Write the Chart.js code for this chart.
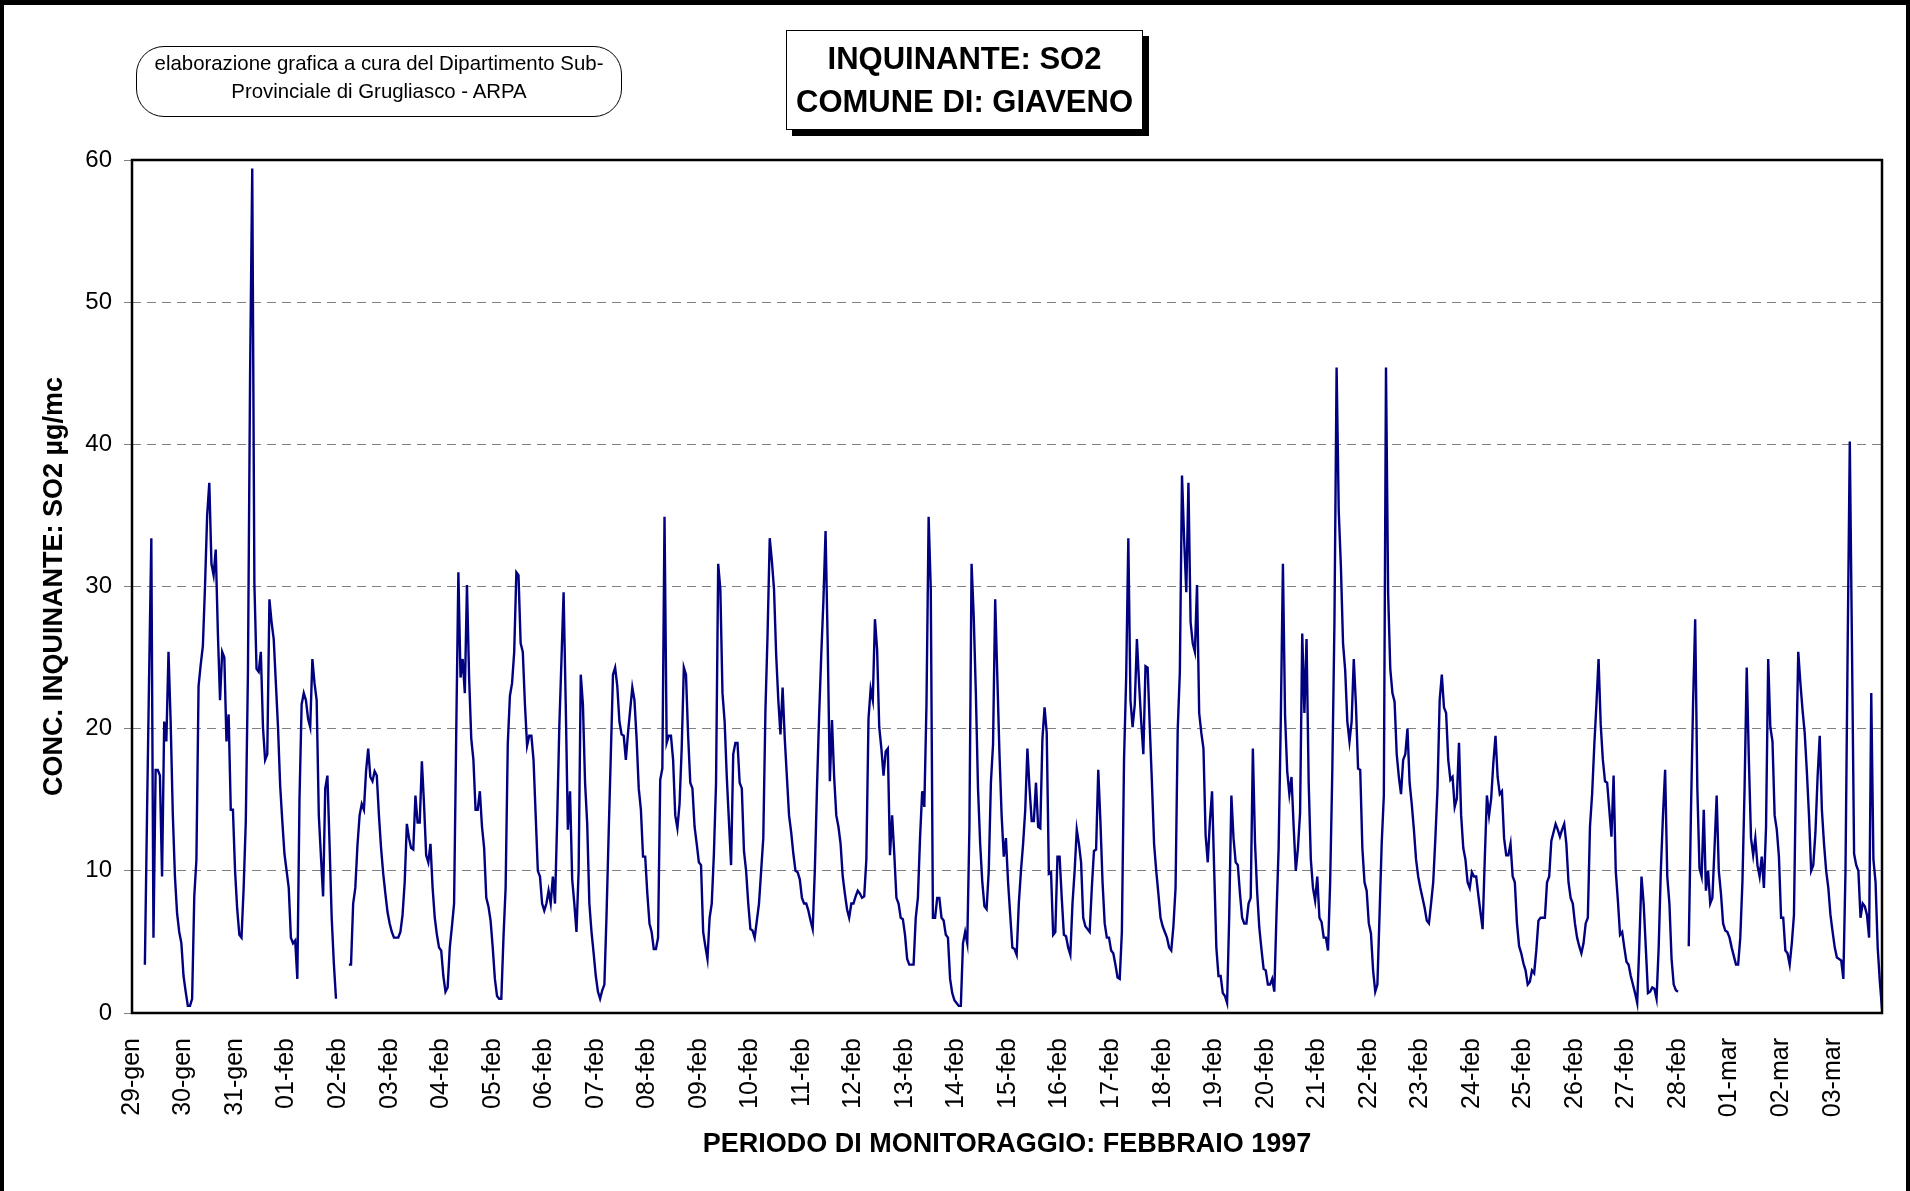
<!DOCTYPE html>
<html>
<head>
<meta charset="utf-8">
<script src="https://cdn.jsdelivr.net/npm/chart.js@4.4.1/dist/chart.umd.min.js"></script>
<style>
  html, body { margin: 0; padding: 0; background: #fff; }
  #wrap { position: relative; width: 1910px; height: 1191px; overflow: hidden; }
  #frame { position: absolute; left: 0; top: 0; width: 1910px; height: 1191px; box-sizing: border-box;
           border-top: 5px solid #000; border-left: 4px solid #000; border-right: 4px solid #000; pointer-events: none; }
  #note { position: absolute; left: 136px; top: 46px; width: 486px; height: 71px; box-sizing: border-box;
          border: 1px solid #000; border-radius: 28px; text-align: center;
          font: 20.4px "Liberation Sans", Arial, sans-serif; line-height: 28px; padding-top: 2px; }
  #title { position: absolute; left: 786px; top: 30px; width: 357px; height: 100px; box-sizing: border-box;
           border: 1px solid #000; box-shadow: 6px 6px 0 #000; background: #fff; text-align: center;
           font: bold 31px "Liberation Sans", Arial, sans-serif; line-height: 43px; padding-top: 6px; }
</style>
</head>
<body>
<div id="wrap">
  <canvas id="so2Chart" width="1910" height="1191"></canvas>
  <div id="note">elaborazione grafica a cura del Dipartimento Sub-<br>Provinciale di Grugliasco - ARPA</div>
  <div id="title">INQUINANTE: SO2<br>COMUNE DI: GIAVENO</div>
  <div id="frame"></div>
</div>
<script>
// one label per day, 24 hourly readings each
const days = ['29-gen', '30-gen', '31-gen', '01-feb', '02-feb', '03-feb', '04-feb', '05-feb', '06-feb',
    '07-feb', '08-feb', '09-feb', '10-feb', '11-feb', '12-feb', '13-feb', '14-feb', '15-feb', '16-feb',
    '17-feb', '18-feb', '19-feb', '20-feb', '21-feb', '22-feb', '23-feb', '24-feb', '25-feb', '26-feb',
    '27-feb', '28-feb', '01-mar', '02-mar', '03-mar'];

const yTicks = [0, 10, 20, 30, 40, 50, 60];

// hourly SO2 (µg/mc), one row per day; null = missing reading
const so2ByDay = [
    [null, null, null, null, null, null, 3.4, 14, 24, 33.4, 5.3, 17.1, 17.1, 16.7, 9.6, 20.5, 19.1, 25.4, 20.5, 14, 9.6, 7, 5.7, 4.9],
    [2.6, 1.5, 0.5, 0.5, 1, 8.2, 10.8, 23, 24.5, 25.8, 30, 35, 37.3, 31.6, 30.8, 32.6, 26.7, 22, 25.4, 25, 19.1, 21, 14.3, 14.3],
    [10, 7.3, 5.5, 5.3, 8.8, 13.5, 24, 45, 59.4, 30.2, 24.2, 24, 25.4, 20.1, 17.8, 18.2, 29.1, 27.5, 26.3, 23.2, 20.1, 16, 13.5, 11.2],
    [10, 8.8, 5.3, 4.9, 5.1, 2.4, 15, 21.7, 22.5, 22, 20.7, 20.1, 24.9, 23.2, 22, 13.9, 11, 8.2, 15.8, 16.7, 11.9, 6.7, 3.5, 1],
    [null, null, null, null, null, 3.4, 3.4, 7.7, 8.8, 11.8, 13.9, 14.7, 14.3, 17, 18.6, 16.6, 16.3, 17, 16.7, 13.9, 11.6, 9.8, 8.4, 7.1],
    [6.3, 5.7, 5.3, 5.3, 5.3, 5.7, 6.9, 9.2, 13.3, 12.3, 11.6, 11.5, 15.3, 13.4, 13.4, 17.7, 14.7, 11.1, 10.6, 11.9, 8.8, 6.7, 5.5, 4.6],
    [4.4, 2.6, 1.5, 1.8, 4.6, 6.1, 7.7, 19.7, 31, 23.6, 24.9, 22.5, 30.1, 23.6, 19.3, 17.8, 14.3, 14.3, 15.6, 13.1, 11.6, 8.1, 7.5, 6.5],
    [4.6, 2.4, 1.2, 1, 1, 5.3, 8.8, 18.9, 22.3, 23.2, 25.4, 31, 30.8, 26, 25.4, 21.7, 18.8, 19.5, 19.5, 17.8, 13.9, 10, 9.6, 7.7],
    [7.2, 7.7, 8.6, 7.7, 9.6, 7.7, 13.5, 20.1, 24.8, 29.6, 21.7, 12.9, 15.6, 9.4, 7.7, 5.7, 10, 23.8, 21.7, 16.2, 13.3, 7.7, 5.7, 4.2],
    [2.6, 1.5, 1, 1.6, 2, 6.9, 12.7, 18.2, 23.8, 24.3, 23, 20.5, 19.6, 19.5, 17.8, 19.7, 21.3, 22.9, 22, 19.3, 15.8, 14.3, 11, 11],
    [8.4, 6.3, 5.7, 4.5, 4.5, 5.3, 16.4, 17.2, 34.9, 19, 19.5, 19.5, 17.8, 13.9, 13, 14.7, 18.6, 24.3, 23.8, 19.5, 16.2, 15.8, 13.1, 11.9],
    [10.6, 10.4, 5.7, 4.7, 3.8, 6.7, 7.7, 11.2, 16.2, 31.6, 29.8, 22.5, 20.5, 16.6, 13.5, 10.4, 18.2, 19, 19, 16.2, 15.8, 11.4, 10, 7.7],
    [5.9, 5.8, 5.3, 6.5, 7.7, 10, 12.3, 21.3, 26.7, 33.4, 31.8, 29.8, 25.2, 22, 19.6, 22.9, 19.3, 16.6, 13.9, 12.7, 11.2, 10, 9.9, 9.4],
    [8.1, 7.7, 7.7, 7.2, 6.5, 5.9, 10, 15.8, 20.9, 25.2, 29, 33.9, 26, 16.3, 20.6, 16.6, 13.9, 13.1, 11.9, 9.6, 8.4, 7.3, 6.7, 7.7],
    [7.7, 8.2, 8.6, 8.4, 8.1, 8.2, 10.8, 20.7, 22.8, 22, 27.7, 25.6, 20.1, 18.6, 16.7, 18.4, 18.6, 11.1, 13.9, 11.2, 8.1, 7.7, 6.7, 6.6],
    [5.5, 3.8, 3.4, 3.4, 3.4, 6.7, 8.1, 12.3, 15.6, 14.5, 21.7, 34.9, 29.8, 6.7, 6.7, 8.1, 8.1, 6.7, 6.5, 5.5, 5.3, 2.4, 1.4, 0.9],
    [0.7, 0.5, 0.5, 4.9, 5.7, 4.9, 13.1, 31.6, 27.9, 22.5, 15.8, 11.9, 9.2, 7.5, 7.3, 10, 16.2, 18.9, 29.1, 23.6, 18.2, 13.9, 11, 12.3],
    [9.2, 6.9, 4.6, 4.5, 4.1, 7.7, 10, 11.9, 14.3, 18.6, 15.8, 13.5, 13.5, 16.2, 13.1, 13, 19.3, 21.5, 19.7, 9.8, 9.9, 5.5, 5.7, 11],
    [11, 8.1, 5.5, 5.4, 4.6, 4.1, 7.7, 10, 12.9, 11.9, 10.6, 6.7, 6.1, 5.9, 5.7, 8.8, 11.4, 11.5, 17.1, 13.5, 9.2, 6.3, 5.3, 5.3],
    [4.4, 4.2, 3.4, 2.5, 2.4, 5.7, 17.8, 23.6, 33.4, 22, 20.1, 21.7, 26.3, 23.2, 20.5, 18.2, 24.4, 24.3, 20.1, 16.2, 11.9, 10, 8.4, 6.7],
    [6.1, 5.7, 5.3, 4.6, 4.4, 6.1, 8.8, 19.9, 24, 37.8, 33.3, 29.6, 37.3, 27.5, 26, 25.4, 30.1, 21.1, 19.7, 18.6, 12.5, 10.6, 13.5, 15.6],
    [10, 4.6, 2.6, 2.6, 1.4, 1.2, 0.7, 6.9, 15.3, 12.3, 10.6, 10.4, 8.4, 6.7, 6.3, 6.3, 7.7, 8.1, 18.6, 12, 8.5, 6, 4.5, 3.1],
    [3, 2, 2, 2.4, 1.5, 6.9, 11.6, 20.5, 31.6, 20.9, 17, 15.4, 16.6, 13.1, 10, 11.6, 14.1, 26.7, 21.1, 26.3, 16.2, 10.8, 8.8, 7.9],
    [9.6, 6.7, 6.4, 5.3, 5.3, 4.4, 9.2, 17, 27.5, 45.4, 35.3, 31.4, 26, 24.1, 20.5, 19.1, 20.5, 24.9, 21.7, 17.2, 17.1, 11.6, 9.2, 8.6],
    [6.3, 5.6, 3, 1.5, 2, 6.9, 11.9, 15.3, 45.4, 29.5, 24.2, 22.5, 21.9, 18.2, 16.6, 15.4, 17.8, 18.2, 20, 16.2, 14.7, 12.9, 10.8, 9.6],
    [8.8, 8.1, 7.4, 6.5, 6.3, 7.7, 9.2, 12.3, 15.8, 22, 23.8, 21.5, 21.1, 17.8, 16.4, 16.6, 14.5, 15.1, 19, 13.9, 11.6, 10.8, 9.2, 8.8],
    [9.9, 9.6, 9.6, 8.3, 7.1, 5.9, 10.8, 15.3, 13.9, 15.1, 17.6, 19.5, 16.6, 15.4, 15.6, 12.3, 11.1, 11.1, 11.9, 9.6, 9.2, 6.3, 4.7, 4.2],
    [3.5, 3, 2, 2.2, 3, 2.8, 4.4, 6.5, 6.7, 6.7, 6.7, 9.2, 9.6, 12.1, 12.7, 13.3, 12.9, 12.4, 12.9, 13.3, 11.9, 9.2, 8.1, 7.7],
    [6.3, 5.3, 4.7, 4.2, 4.9, 6.3, 6.7, 13.1, 15.4, 18.8, 21.7, 24.9, 20.3, 17.8, 16.3, 16.2, 14.3, 12.4, 16.7, 10, 7.9, 5.5, 5.7, 4.6],
    [3.6, 3.4, 2.6, 2, 1.4, 0.7, 4.9, 9.6, 7.7, 4.6, 1.4, 1.5, 1.8, 1.7, 1, 4.6, 10, 13.9, 17.1, 9.6, 7.7, 3.8, 2, 1.6],
    [1.5, null, null, null, null, 4.7, 13.9, 21.7, 27.7, 15.8, 10.2, 9.6, 14.3, 8.6, 10, 7.7, 8.1, 11.6, 15.3, 10, 8.4, 6.3, 5.8, 5.7],
    [5.3, 4.6, 4, 3.4, 3.4, 5.3, 9.2, 15.8, 24.3, 17.8, 12.3, 11.1, 12.3, 10.4, 9.6, 11, 8.8, 13.1, 24.9, 20.1, 19.1, 13.9, 12.9, 11],
    [6.7, 6.7, 4.4, 4.2, 3.4, 4.9, 6.9, 17.5, 25.4, 23.2, 21.3, 19.7, 17, 13.9, 10, 10.4, 12.7, 16.6, 19.5, 14.3, 11.9, 10, 8.8, 6.9],
    [5.7, 4.6, 3.9, 3.8, 3.7, 2.4, 10, 25.6, 40.2, 26, 11.2, 10.4, 10, 6.7, 7.7, 7.5, 6.9, 5.3, 22.5, 10.8, 9.2, 4.6, 2.2, 0.3]
];

const yTitle = 'CONC. INQUINANTE: SO2 µg/mc';
const xTitle = 'PERIODO DI MONITORAGGIO: FEBBRAIO 1997';

// build the hourly series and its labels from the day rows
const hourLabels = [];
const hourValues = [];
so2ByDay.forEach((row, d) => {
    row.forEach((v, h) => {
        hourLabels.push(days[d] + ' ' + String(h).padStart(2, '0'));
        hourValues.push(v);
    });
});

const FONT = '"Liberation Sans", Arial, sans-serif';

// black border round the plot area
const plotFrame = {
    id: 'plotFrame',
    afterDraw(chart) {
        const {ctx, chartArea: a} = chart;
        ctx.save();
        ctx.strokeStyle = '#000';
        ctx.lineWidth = 2.5;
        ctx.strokeRect(a.left, a.top, a.right - a.left, a.bottom - a.top);
        ctx.restore();
    }
};

new Chart(document.getElementById('so2Chart'), {
    type: 'line',
    data: {
        labels: hourLabels,
        datasets: [{
            label: 'SO2',
            data: hourValues,
            borderColor: '#000080',
            borderWidth: 2.4,
            pointRadius: 0,
            tension: 0,
            spanGaps: false,
            fill: false
        }]
    },
    options: {
        responsive: false,
        animation: false,
        events: [],
        layout: { padding: { left: 30, right: 28, top: 160, bottom: 30 } },
        plugins: { legend: { display: false }, tooltip: { enabled: false } },
        scales: {
            x: {
                type: 'category',
                offset: false,
                grid: { display: false },
                border: { display: false },
                ticks: {
                    autoSkip: false,
                    minRotation: 90,
                    maxRotation: 90,
                    padding: 17,
                    color: '#000',
                    font: { family: FONT, size: 25 },
                    callback: (val, i) => (i % 24 === 0 ? days[i / 24] : null)
                },
                title: {
                    display: true,
                    text: xTitle,
                    color: '#000',
                    font: { family: FONT, size: 27, weight: 'bold' },
                    padding: { top: 0, bottom: 0 }
                },
                afterFit: (scale) => { scale.height = 148; }
            },
            y: {
                min: yTicks[0],
                max: yTicks[yTicks.length - 1],
                grid: {
                    color: '#808080',
                    lineWidth: 1,
                    drawTicks: true,
                    tickLength: 8,
                    tickColor: '#808080',
                    tickBorderDash: [1, 0]
                },
                border: { display: false, dash: [9, 6] },
                ticks: {
                    stepSize: 10,
                    padding: 12,
                    color: '#000',
                    font: { family: FONT, size: 24 }
                },
                title: {
                    display: true,
                    text: yTitle,
                    color: '#000',
                    font: { family: FONT, size: 27, weight: 'bold' },
                    padding: { top: 8, bottom: 0 }
                },
                afterFit: (scale) => { scale.width = 102; }
            }
        }
    },
    plugins: [plotFrame]
});
</script>
</body>
</html>
